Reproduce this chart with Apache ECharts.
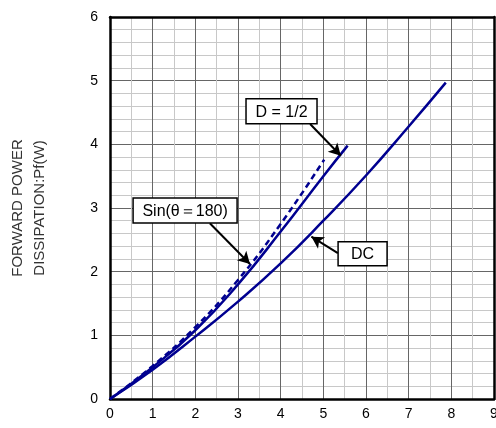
<!DOCTYPE html>
<html>
<head>
<meta charset="utf-8">
<script src="https://cdn.jsdelivr.net/npm/echarts@6/dist/echarts.min.js"></script>
<style>
  html, body { margin: 0; padding: 0; background: #fff; }
  #main { width: 496px; height: 428px; }
</style>
</head>
<body>
<div id="main"></div>
<script>
// curve data (IF(AV) in A, Pf in W)
var dcX = [0, 1, 2, 3, 4, 5, 6, 7, 7.87];
var dcY = [0, 0.46, 0.98, 1.53, 2.13, 2.80, 3.51, 4.28, 4.97];
var halfX = [0, 1, 2, 3, 4, 5, 5.57];
var halfY = [0, 0.50, 1.08, 1.80, 2.63, 3.50, 3.98];
var sinX = [0, 1, 2, 3, 4, 5.02];
var sinY = [0, 0.52, 1.13, 1.87, 2.75, 3.76];

var xTicks = ['0', '1', '2', '3', '4', '5', '6', '7', '8', '9'];
var yTicks = ['0', '1', '2', '3', '4', '5', '6'];

// callouts: label, box centre, arrow start, arrow tip (data coords)
var callouts = [
  { text: 'D = 1/2', at: [4.02, 4.52], from: [4.69, 4.32], to: [5.41, 3.82], w: 71, h: 25 },
  { text: 'Sin(θ＝180)', at: [1.76, 2.96], from: [2.34, 2.76], to: [3.28, 2.12], w: 104, h: 25 },
  { text: 'DC', at: [5.92, 2.28], from: [5.34, 2.29], to: [4.72, 2.55], w: 49, h: 24 }
];

function pairs(xs, ys) {
  return xs.map(function (x, i) { return [x, ys[i]]; });
}

var chart = echarts.init(document.getElementById('main'));
var lineColor = '#000090';
var font = 'Liberation Sans, Arial, sans-serif';

var option = {
  animation: false,
  grid: { left: 110, right: 2, top: 17, bottom: 29, outerBoundsMode: 'none', containLabel: false },
  xAxis: [
    {
      type: 'value', min: 0, max: 9, interval: 1,
      axisLine: { show: true, onZero: false, lineStyle: { color: '#000', width: 2.5 } },
      axisTick: { show: false },
      axisLabel: {
        color: '#000', fontSize: 14, fontFamily: font, margin: 8,
        formatter: function (v) { return xTicks[Math.round(v)]; }
      },
      splitLine: { show: true, lineStyle: { color: '#666', width: 1 } },
      minorTick: { show: true, splitNumber: 2, length: 0 },
      minorSplitLine: { show: true, lineStyle: { color: '#c8c8c8', width: 1 } }
    },
    {
      type: 'value', min: 0, max: 9, position: 'top',
      axisLine: { show: true, onZero: false, lineStyle: { color: '#000', width: 2.5 } },
      axisTick: { show: false }, axisLabel: { show: false }, splitLine: { show: false }
    }
  ],
  yAxis: [
    {
      type: 'value', min: 0, max: 6, interval: 1,
      name: 'FORWARD POWER\nDISSIPATION:Pf(W)',
      nameLocation: 'middle', nameGap: 59, nameRotate: 90,
      nameTextStyle: { color: '#333', fontSize: 15, fontFamily: font, lineHeight: 22 },
      axisLine: { show: true, onZero: false, lineStyle: { color: '#000', width: 2.5 } },
      axisTick: { show: false },
      axisLabel: {
        color: '#000', fontSize: 14, fontFamily: font, margin: 12,
        formatter: function (v) { return yTicks[Math.round(v)]; }
      },
      splitLine: { show: true, lineStyle: { color: '#666', width: 1 } },
      minorTick: { show: true, splitNumber: 5, length: 0 },
      minorSplitLine: { show: true, lineStyle: { color: '#c8c8c8', width: 1 } }
    },
    {
      type: 'value', min: 0, max: 6, position: 'right',
      axisLine: { show: true, onZero: false, lineStyle: { color: '#000', width: 2.5 } },
      axisTick: { show: false }, axisLabel: { show: false }, splitLine: { show: false }
    }
  ],
  series: [
    {
      name: 'DC', type: 'line', smooth: 0.5, showSymbol: false,
      data: pairs(dcX, dcY),
      lineStyle: { color: lineColor, width: 2.5 },
      markLine: {
        silent: true, symbol: ['none', 'arrow'], symbolSize: [10, 12],
        label: { show: false },
        lineStyle: { color: '#000', width: 2, type: 'solid' },
        data: callouts.map(function (c) {
          return [{ coord: c.from }, { coord: c.to }];
        })
      }
    },
    {
      name: 'D = 1/2', type: 'line', smooth: 0.5, showSymbol: false,
      data: pairs(halfX, halfY),
      lineStyle: { color: lineColor, width: 2.5 }
    },
    {
      name: 'Sin', type: 'line', smooth: 0.5, showSymbol: false,
      data: pairs(sinX, sinY),
      lineStyle: { color: lineColor, width: 2.5, type: [6, 4] }
    }
  ]
};
chart.setOption(option);

// boxed labels placed from data coords
var boxes = [];
callouts.forEach(function (c) {
  var p = chart.convertToPixel({ gridIndex: 0 }, c.at);
  boxes.push({
    type: 'rect', z: 100,
    shape: { x: p[0] - c.w / 2, y: p[1] - c.h / 2, width: c.w, height: c.h },
    style: { fill: '#fff', stroke: '#000', lineWidth: 1.5 }
  });
  boxes.push({
    type: 'text', z: 101, x: p[0], y: p[1] + 1,
    style: { text: c.text, fill: '#000', font: '16px ' + font, align: 'center', verticalAlign: 'middle' }
  });
});
chart.setOption({ graphic: boxes });
</script>
</body>
</html>
